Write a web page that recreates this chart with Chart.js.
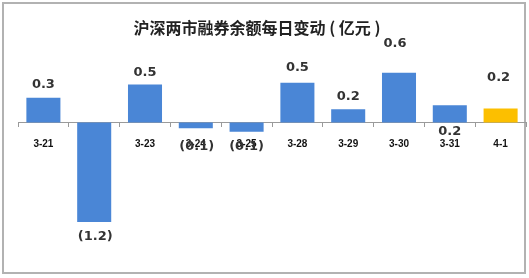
<!DOCTYPE html>
<html>
<head>
<meta charset="utf-8">
<script src="https://cdn.jsdelivr.net/npm/chart.js@4.4.0/dist/chart.umd.min.js"></script>
<style>
  html, body { margin: 0; padding: 0; background: #fff; }
  canvas { display: block; }
</style>
</head>
<body>
<canvas id="marginChart" width="529" height="278"></canvas>
<script>
// Daily change of short-selling balance, 100M yuan
const chartTitle = '沪深两市融券余额每日变动 ( 亿元 )';
const dates = ['3-21', '3-22', '3-23', '3-24', '3-25', '3-28', '3-29', '3-30', '3-31', '4-1'];
const changes = [0.3, -1.2, 0.46, -0.07, -0.11, 0.48, 0.16, 0.6, 0.21, 0.17];
const barColors = ['#4a86d6', '#4a86d6', '#4a86d6', '#4a86d6', '#4a86d6',
                   '#4a86d6', '#4a86d6', '#4a86d6', '#4a86d6', '#fcbf00'];

// where the value labels sit relative to the end of each bar (px)
const labelOffsetY = [-13, 15, -12, 18, 15, -15, -13, -29, 26, -31];
const labelShiftX = [0, 1, 0, 1, 0, 0, 0, -4, 0, -2];

function formatValue(v) {
    return v < 0 ? '(' + Math.abs(v).toFixed(1) + ')' : v.toFixed(1);
}

// Frame around the whole picture + title
const frame = {
    id: 'frame',
    beforeDraw(chart) {
        const ctx = chart.ctx;
        ctx.save();
        ctx.fillStyle = '#fff';
        ctx.fillRect(0, 0, chart.width, chart.height);
        ctx.strokeStyle = '#b2b2b2';
        ctx.lineWidth = 2;
        ctx.strokeRect(3, 3, 522, 270);
        ctx.font = 'bold 16px "Noto Sans CJK SC"';
        ctx.fillStyle = '#222';
        ctx.textAlign = 'center';
        ctx.textBaseline = 'middle';
        ctx.fillText(chartTitle, 257, 28);
        ctx.restore();
    }
};

// Value labels above / below bars
const valueLabels = {
    id: 'valueLabels',
    afterDraw(chart) {
        const ctx = chart.ctx;
        const meta = chart.getDatasetMeta(0);
        ctx.save();
        ctx.font = 'bold 13px "DejaVu Sans"';
        ctx.fillStyle = '#333';
        ctx.textAlign = 'center';
        ctx.textBaseline = 'middle';
        meta.data.forEach((bar, i) => {
            ctx.fillText(formatValue(changes[i]), bar.x + labelShiftX[i], bar.y + labelOffsetY[i]);
        });
        ctx.restore();
    }
};

const ctx = document.getElementById('marginChart').getContext('2d');
new Chart(ctx, {
    type: 'bar',
    data: {
        labels: dates,
        datasets: [{
            data: changes,
            backgroundColor: barColors,
            borderWidth: 0,
            barPercentage: 0.67,
            categoryPercentage: 1
        }]
    },
    options: {
        responsive: false,
        animation: false,
        layout: {
            padding: { left: 18, right: 3, top: 48, bottom: 23 }
        },
        plugins: {
            legend: { display: false },
            tooltip: { enabled: false },
            title: { display: false }
        },
        scales: {
            x: {
                position: { y: 0 },
                z: 1,
                grid: {
                    display: true,
                    drawOnChartArea: false,
                    drawTicks: true,
                    tickLength: 4,
                    color: '#9a9a9a',
                    offset: true
                },
                border: { display: true, color: '#9a9a9a', width: 1 },
                ticks: {
                    color: '#111',
                    font: { family: 'Liberation Sans', size: 10, weight: 'bold' },
                    padding: 12,
                    maxRotation: 0,
                    autoSkip: false
                }
            },
            y: {
                display: false,
                min: -1.6,
                max: 0.9
            }
        }
    },
    plugins: [frame, valueLabels]
});
</script>
</body>
</html>
